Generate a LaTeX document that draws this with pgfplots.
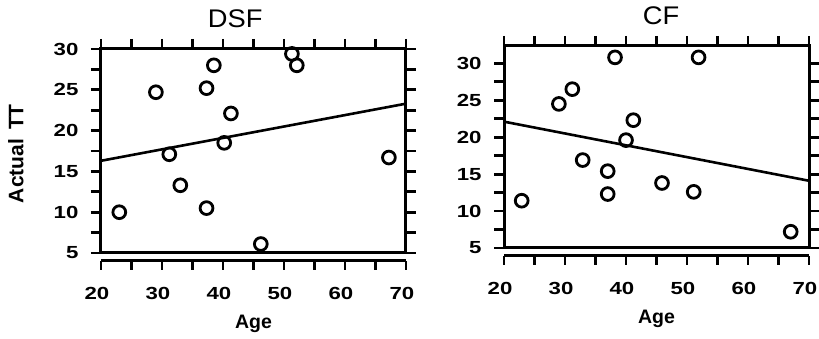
\documentclass[border=0pt]{standalone}
\usepackage{fontspec}
\setmainfont{Liberation Sans}
\newfontfamily\tickfont{Liberation Sans}[FakeStretch=1.27]
\newfontfamily\titlefont{Liberation Sans}[FakeStretch=1.07]
\usepackage{pgfplots}
\pgfplotsset{compat=1.18}
\pgfplotstableread{
x y
23.0 10.0
29.0 24.7
31.2 17.1
33.0 13.3
37.3 25.2
37.3 10.5
38.5 28.0
40.2 18.5
41.3 22.1
46.2 6.1
51.3 29.4
52.1 28.0
67.2 16.7
}\dsf
\pgfplotstableread{
x y
22.9 11.4
29.0 24.5
31.2 26.5
32.9 16.9
37.0 15.4
37.0 12.3
38.2 30.8
40.0 19.6
41.2 22.3
45.9 13.8
51.1 12.6
51.9 30.8
67.0 7.2
}\cf
\pgfplotsset{
  frame/.style={
    scale only axis, width=305pt, clip=false,
    xmin=20, xmax=70, ymin=5,
    /pgf/number format/assume math mode=true,
    axis line style={line width=3pt},
    every tick/.style={line width=2.8pt, black},
    tick align=outside,
    major tick length=10pt, minor tick length=10pt,
    xtick pos=upper, xtick={20,25,...,70}, xticklabels={},
    ytick pos=both, yticklabel pos=left,
    ytick={5,10,...,30}, minor ytick={7.5,12.5,...,27.5},
    yticklabel style={font=\tickfont\bfseries\fontsize{17.5}{20}\selectfont, xshift=-9pt},
    every axis title shift=0pt,
    title style={font=\titlefont\fontsize{25.5}{30}\selectfont, anchor=base, yshift=21pt},
  },
  xaxis/.style={
    scale only axis, width=305pt, height=100pt,
    xmin=20, xmax=70, ymin=0, ymax=1,
    /pgf/number format/assume math mode=true,
    axis x line=bottom, hide y axis,
    axis line style={line width=3pt, -},
    every tick/.style={line width=2.8pt, black},
    tick align=outside,
    major tick length=9pt, minor tick length=9pt,
    xtick={20,30,...,70}, minor xtick={25,35,...,65},
    xticklabel style={font=\tickfont\bfseries\fontsize{17.5}{20}\selectfont, xshift=-4pt, yshift=-14pt},
    xlabel={Age},
    xlabel style={font=\bfseries\fontsize{19.5}{24}\selectfont, at={(axis description cs:0.5,0)}, anchor=base, yshift=-68pt},
  },
  pts/.style={only marks, mark=o, mark size=6.4pt, black, mark options={line width=2.8pt}},
  fit/.style={black, line width=2.6pt, no marks},
}
\begin{document}
\begin{tikzpicture}
\useasboundingbox (-101pt,-86pt) rectangle (718pt,253pt);
% DSF
\begin{axis}[frame, at={(0pt,0pt)}, height=204pt, ymax=30,
  title={DSF}, title style={at={(axis description cs:0.44,1)}},
  ylabel={\bfseries\fontsize{21}{24}\selectfont Actual\hspace{9pt}TT},
  ylabel style={at={(axis description cs:-0.279,0.487)}, anchor=center}]
\addplot[pts] table[x=x,y=y] {\dsf};
\addplot[fit] coordinates {(20,16.3) (70,23.3)};
\end{axis}
\begin{axis}[xaxis, at={(0pt,-8pt)}]
\end{axis}
% CF
\begin{axis}[frame, at={(403pt,5pt)}, height=202pt, ymax=32.34,
  title={CF}, title style={at={(axis description cs:0.515,1)}}]
\addplot[pts] table[x=x,y=y] {\cf};
\addplot[fit] coordinates {(20,22.1) (70,14.1)};
\end{axis}
\begin{axis}[xaxis, at={(403pt,-3pt)}]
\end{axis}
\end{tikzpicture}
\end{document}
